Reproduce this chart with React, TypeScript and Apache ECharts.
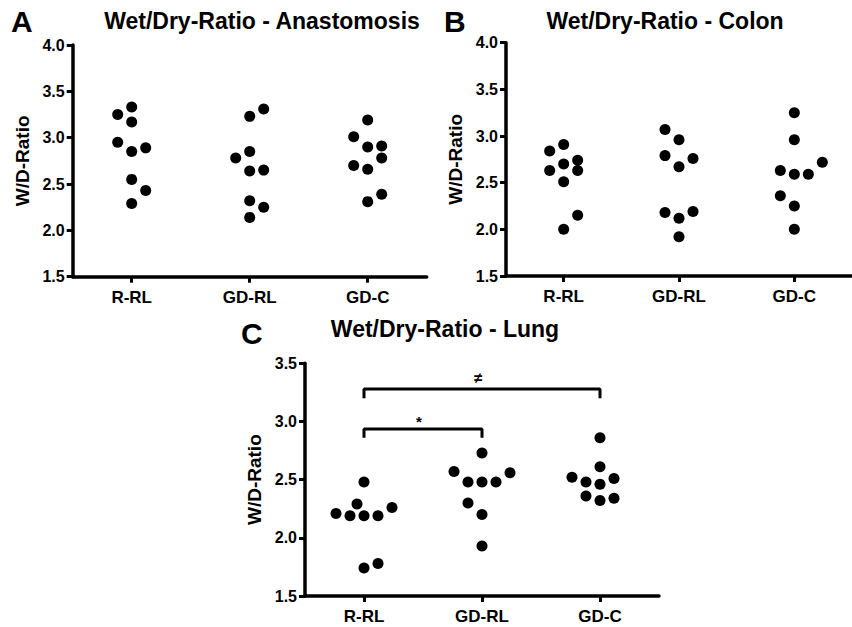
import React, { useEffect, useRef } from "react";
import * as echarts from "echarts";

// ---- data ----
const categories = ["R-RL", "GD-RL", "GD-C"];
const titles = ["Wet/Dry-Ratio - Anastomosis", "Wet/Dry-Ratio - Colon", "Wet/Dry-Ratio - Lung"];
const panelLetters = ["A", "B", "C"];
const yName = "W/D-Ratio";
const yRangeAB = [1.5, 4.0];
const yRangeC = [1.5, 3.5];

// Panel A - Anastomosis
const anaRRL = [3.25, 3.33, 3.17, 2.95, 2.85, 2.89, 2.55, 2.43, 2.29];
const anaRRLSlot = [-1, 0, 0, -1, 0, 1, 0, 1, 0];
const anaGDRL = [3.23, 3.31, 2.78, 2.85, 2.64, 2.65, 2.32, 2.25, 2.14];
const anaGDRLSlot = [0, 1, -1, 0, 0, 1, 0, 1, 0];
const anaGDC = [3.19, 3.01, 2.9, 2.91, 2.78, 2.7, 2.66, 2.31, 2.39];
const anaGDCSlot = [0, -1, 0, 1, 1, -1, 0, 0, 1];

// Panel B - Colon
const colRRL = [2.84, 2.91, 2.74, 2.7, 2.63, 2.63, 2.51, 2.15, 2.0];
const colRRLSlot = [-1, 0, 1, 0, -1, 1, 0, 1, 0];
const colGDRL = [3.07, 2.96, 2.79, 2.76, 2.67, 2.18, 2.19, 2.12, 1.92];
const colGDRLSlot = [-1, 0, -1, 1, 0, -1, 1, 0, 0];
const colGDC = [3.25, 2.96, 2.72, 2.63, 2.59, 2.59, 2.36, 2.25, 2.0];
const colGDCSlot = [0, 0, 2, -1, 0, 1, -1, 0, 0];

// Panel C - Lung
const lungRRL = [2.48, 2.29, 2.26, 2.21, 2.19, 2.19, 2.19, 1.74, 1.78];
const lungRRLSlot = [0, -0.5, 2, -2, -1, 0, 1, 0, 1];
const lungGDRL = [2.73, 2.57, 2.56, 2.48, 2.48, 2.48, 2.3, 2.2, 1.93];
const lungGDRLSlot = [0, -2, 2, -1, 0, 1, -1, 0, 0];
const lungGDC = [2.86, 2.61, 2.52, 2.51, 2.48, 2.46, 2.36, 2.32, 2.34];
const lungGDCSlot = [0, 0, -2, 1, -1, 0, -1, 0, 1];

// significance brackets in panel C
const bracketWide = { from: "R-RL", to: "GD-C", top: 3.28, end: 3.2, label: "≠" };
const bracketNarrow = { from: "R-RL", to: "GD-RL", top: 2.935, end: 2.86, label: "*" };

const FONT = "'Liberation Sans', Arial, Helvetica, sans-serif";
const SLOT_PX = 14;

function points(groups: number[][], slots: number[][]) {
  const out: any[] = [];
  groups.forEach((vals, gi) => {
    vals.forEach((v, i) => {
      out.push({ value: [categories[gi], v], symbolOffset: [slots[gi][i] * SLOT_PX, 0] });
    });
  });
  return out;
}

function bracketData(b: { from: string; to: string; top: number; end: number }) {
  return [
    [b.from, b.end],
    [b.from, b.top],
    [b.to, b.top],
    [b.to, b.end],
  ];
}

export default function App() {
  const ref = useRef<HTMLDivElement>(null);
  useEffect(() => {
    if (!ref.current) return;
    const chart = echarts.init(ref.current, null, { renderer: "svg" });

    const grids = [
      { left: 72.7, top: 45, width: 354, height: 231.7 },
      { left: 506, top: 42.7, width: 354, height: 233.3 },
      { left: 305, top: 363.3, width: 354, height: 232.7 },
    ];

    const xAxes = grids.map((_, i) => ({
      type: "category",
      gridIndex: i,
      data: categories,
      boundaryGap: true,
      axisLine: { show: true, lineStyle: { color: "#000", width: 3.5 } },
      axisTick: { show: true, alignWithLabel: true, length: 6, lineStyle: { color: "#000", width: 3 } },
      axisLabel: { color: "#000", fontWeight: "bold", fontSize: 17, fontFamily: FONT, margin: 12 },
      splitLine: { show: false },
    }));

    const yAxes = grids.map((_, i) => {
      const r = i === 2 ? yRangeC : yRangeAB;
      return {
        type: "value",
        gridIndex: i,
        min: r[0],
        max: r[1],
        interval: 0.5,
        name: yName,
        nameLocation: "middle",
        nameGap: 41,
        nameTextStyle: { color: "#000", fontWeight: "bold", fontSize: 19, fontFamily: FONT },
        axisLine: { show: true, lineStyle: { color: "#000", width: 3.5 } },
        axisTick: { show: true, length: 6, lineStyle: { color: "#000", width: 3 } },
        axisLabel: {
          color: "#000",
          fontWeight: "bold",
          fontSize: 16,
          fontFamily: FONT,
          margin: 8,
          formatter: (v: number) => v.toFixed(1),
        },
        splitLine: { show: false },
      };
    });

    const dot = {
      symbol: "circle",
      symbolSize: 11,
      itemStyle: { color: "#000", opacity: 1 },
    };

    const option: any = {
      animation: false,
      backgroundColor: "#fff",
      title: [
        { text: titles[0], left: 262, top: 9, textAlign: "center" },
        { text: titles[1], left: 665, top: 9, textAlign: "center" },
        { text: titles[2], left: 445, top: 317, textAlign: "center" },
        { text: panelLetters[0], left: 11, top: 6, isLetter: true },
        { text: panelLetters[1], left: 444, top: 6, isLetter: true },
        { text: panelLetters[2], left: 241, top: 318, isLetter: true },
      ].map((t: any) => ({
        text: t.text,
        left: t.left,
        top: t.top,
        textAlign: t.textAlign,
        padding: 0,
        textStyle: {
          color: "#000",
          fontWeight: "bold",
          fontFamily: FONT,
          fontSize: t.isLetter ? 30 : 23,
        },
      })),
      grid: grids,
      xAxis: xAxes,
      yAxis: yAxes,
      series: [
        {
          type: "scatter",
          xAxisIndex: 0,
          yAxisIndex: 0,
          ...dot,
          data: points([anaRRL, anaGDRL, anaGDC], [anaRRLSlot, anaGDRLSlot, anaGDCSlot]),
        },
        {
          type: "scatter",
          xAxisIndex: 1,
          yAxisIndex: 1,
          ...dot,
          data: points([colRRL, colGDRL, colGDC], [colRRLSlot, colGDRLSlot, colGDCSlot]),
        },
        {
          type: "scatter",
          xAxisIndex: 2,
          yAxisIndex: 2,
          ...dot,
          data: points([lungRRL, lungGDRL, lungGDC], [lungRRLSlot, lungGDRLSlot, lungGDCSlot]),
        },
        {
          type: "line",
          xAxisIndex: 2,
          yAxisIndex: 2,
          symbol: "none",
          lineStyle: { color: "#000", width: 3 },
          data: bracketData(bracketWide),
          silent: true,
        },
        {
          type: "line",
          xAxisIndex: 2,
          yAxisIndex: 2,
          symbol: "none",
          lineStyle: { color: "#000", width: 3 },
          data: bracketData(bracketNarrow),
          silent: true,
        },
      ],
      graphic: [
        {
          type: "text",
          x: 478,
          y: 377,
          style: {
            text: bracketWide.label,
            fill: "#000",
            fontSize: 15,
            fontWeight: "bold",
            fontFamily: FONT,
            textAlign: "center",
            textVerticalAlign: "middle",
          },
        },
        {
          type: "text",
          x: 419,
          y: 421,
          style: {
            text: bracketNarrow.label,
            fill: "#000",
            fontSize: 15,
            fontWeight: "bold",
            fontFamily: FONT,
            textAlign: "center",
            textVerticalAlign: "middle",
          },
        },
      ],
    };

    chart.setOption(option);
    return () => chart.dispose();
  }, []);

  return (
    <div
      ref={ref}
      style={{ position: "fixed", left: 0, top: 0, width: 852, height: 627, background: "#fff" }}
    />
  );
}
